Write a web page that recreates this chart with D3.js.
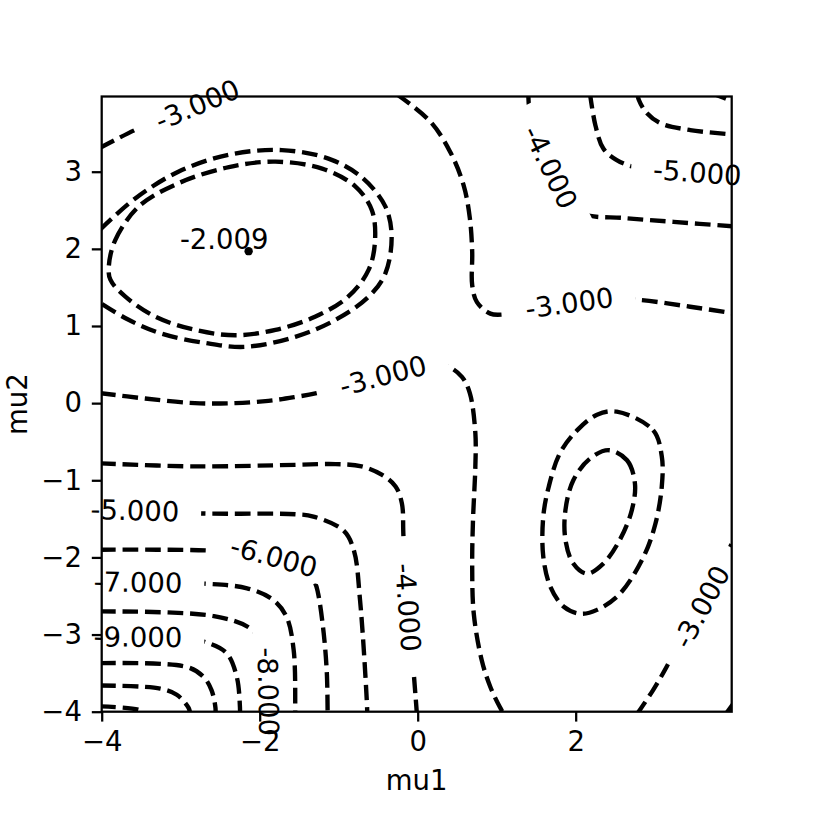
<!DOCTYPE html>
<html>
<head>
<meta charset="utf-8">
<script src="https://cdn.jsdelivr.net/npm/d3@7"></script>
<style>
  body { margin: 0; background: #fff; }
  text { font-family: "DejaVu Sans", sans-serif; }
</style>
</head>
<body>
<svg width="814" height="814"></svg>
<script>
// ticks
var xTicks = [-4, -2, 0, 2];
var yTicks = [-4, -3, -2, -1, 0, 1, 2, 3];

// contour lines, [mu1, mu2]
var lvl3TopLeft = [[-4.02, 3.31], [-3.58, 3.54], [-3.2, 3.70], [-2.79, 3.87], [-2.55, 3.98], [-2.45, 4.03]];
var lvl3Middle = [[-4.02, 0.13], [-3.45, 0.06], [-2.82, 0.0], [-2.31, 0.0], [-1.89, 0.03], [-1.55, 0.08],
  [-1.28, 0.13], [-0.44, 0.36], [0.1, 0.50], [0.37, 0.48], [0.56, 0.34], [0.66, 0.13], [0.73, -0.39],
  [0.73, -0.82], [0.70, -1.52], [0.69, -2.12], [0.71, -2.73], [0.81, -3.33], [0.92, -3.68], [1.04, -3.94], [1.09, -4.03]];
var lvl3Right = [[-0.26, 4.0], [0.16, 3.65], [0.41, 3.26], [0.58, 2.83], [0.66, 2.40], [0.69, 1.96], [0.69, 1.53],
  [0.75, 1.31], [0.92, 1.16], [1.09, 1.15], [1.5, 1.22], [1.92, 1.30], [2.35, 1.34], [2.77, 1.34], [3.45, 1.25], [4.02, 1.16]];
var lvl3BottomRight = [[2.77, -4.04], [2.98, -3.72], [3.15, -3.42], [3.24, -3.24], [3.42, -2.94], [3.59, -2.64], [3.78, -2.25], [4.02, -1.72]];
var lvl4Top = [[1.40, 4.02], [1.42, 3.78], [1.53, 3.50], [1.68, 3.06], [1.90, 2.72], [2.10, 2.46], [2.61, 2.40], [3.24, 2.35], [4.02, 2.29]];
var lvl4Bottom = [[-4.02, -0.78], [-2.82, -0.82], [-1.55, -0.80], [-1.04, -0.79], [-0.71, -0.82], [-0.45, -0.93],
  [-0.28, -1.08], [-0.20, -1.30], [-0.18, -1.73], [-0.12, -2.65], [-0.05, -3.50], [-0.01, -4.03]];
var lvl4Corner = [[3.90, -4.03], [4.02, -3.86]];
var lvl5Top = [[2.18, 4.02], [2.25, 3.60], [2.35, 3.30], [2.52, 3.15], [2.75, 3.06], [3.10, 3.02], [3.54, 2.99], [4.02, 2.95]];
var lvl5Left = [[-4.02, -1.39], [-3.58, -1.39], [-2.73, -1.43], [-1.55, -1.44], [-1.32, -1.47], [-0.94, -1.65],
  [-0.81, -1.90], [-0.73, -2.55], [-0.64, -3.96], [-0.64, -4.03]];
var lvl6Top = [[2.78, 4.02], [2.80, 3.93], [2.90, 3.76], [3.07, 3.63], [3.45, 3.54], [4.02, 3.48]];
var lvl6Left = [[-4.02, -1.90], [-3.3, -1.90], [-2.67, -1.91], [-2.2, -1.94], [-1.82, -1.99], [-1.45, -2.15],
  [-1.30, -2.33], [-1.26, -2.47], [-1.19, -2.98], [-1.15, -3.5], [-1.14, -4.03]];
var lvl7Top = [[3.72, 4.02], [3.88, 3.955], [4.02, 3.90]];
var lvl7Left = [[-4.02, -2.32], [-3.54, -2.32], [-2.71, -2.34], [-2.16, -2.40], [-1.83, -2.55], [-1.66, -2.77],
  [-1.57, -3.20], [-1.55, -3.95], [-1.55, -4.03]];
var lvl8 = [[-4.02, -2.70], [-2.58, -2.76], [-2.12, -2.92], [-1.95, -3.15], [-1.89, -3.45], [-1.89, -3.74], [-1.88, -4.03]];
var lvl9 = [[-4.02, -3.03], [-3.54, -3.03], [-3.0, -3.04], [-2.71, -3.09], [-2.42, -3.24], [-2.29, -3.55], [-2.25, -3.94], [-2.25, -4.03]];
var lvl10 = [[-4.02, -3.37], [-2.92, -3.42], [-2.71, -3.55], [-2.61, -3.72], [-2.56, -3.95], [-2.56, -4.03]];
var lvl11 = [[-4.02, -3.66], [-3.26, -3.70], [-3.05, -3.78], [-2.90, -3.95], [-2.88, -4.03]];
var lvl12 = [[-4.02, -3.93], [-3.51, -3.98], [-3.45, -4.03]];

// rings around the two maxima (no labels)
var maxOuter = [[-4.02, 2.25], [-3.58, 2.65], [-3.03, 3.00], [-2.39, 3.22], [-1.72, 3.28], [-1.13, 3.17], [-0.71, 2.93],
  [-0.41, 2.55], [-0.33, 2.16], [-0.41, 1.68], [-0.62, 1.38], [-1.04, 1.08], [-1.55, 0.86], [-2.18, 0.73],
  [-2.69, 0.78], [-3.24, 0.90], [-3.66, 1.08], [-4.02, 1.30]];
var maxInner = [[-3.91, 1.77], [-3.83, 2.11], [-3.53, 2.55], [-3.03, 2.85], [-2.39, 3.06], [-1.80, 3.13], [-1.21, 3.04],
  [-0.79, 2.81], [-0.58, 2.50], [-0.54, 2.11], [-0.62, 1.73], [-0.88, 1.38], [-1.30, 1.12], [-1.80, 0.95],
  [-2.31, 0.88], [-2.82, 0.95], [-3.32, 1.12], [-3.70, 1.38], [-3.89, 1.60]];
var localOuter = [[2.52, -0.11], [2.98, -0.35], [3.09, -0.69], [3.09, -1.08], [3.01, -1.56], [2.86, -1.99], [2.56, -2.47],
  [2.27, -2.68], [2.06, -2.73], [1.85, -2.64], [1.68, -2.38], [1.59, -1.99], [1.59, -1.47], [1.66, -1.08],
  [1.80, -0.65], [2.02, -0.35], [2.27, -0.15]];
var localInner = [[2.42, -0.61], [2.65, -0.74], [2.75, -1.04], [2.71, -1.39], [2.56, -1.77], [2.35, -2.08], [2.14, -2.21],
  [1.97, -2.08], [1.87, -1.77], [1.87, -1.39], [1.97, -1.0], [2.18, -0.72]];

var maxPoint = [-2.14, 1.97];
var maxValue = -2.009;
var maxTextAt = [-3.01, 2.0];

// level, line, closed?, index of the labelled point (-1 = none)
var contours = [
  { level: -3, pts: lvl3TopLeft, closed: false, label: 3 },
  { level: -3, pts: lvl3Middle, closed: false, label: 7 },
  { level: -3, pts: lvl3Right, closed: false, label: 11 },
  { level: -3, pts: lvl3BottomRight, closed: false, label: 5 },
  { level: -4, pts: lvl4Top, closed: false, label: 3 },
  { level: -4, pts: lvl4Bottom, closed: false, label: 9 },
  { level: -4, pts: lvl4Corner, closed: false, label: -1 },
  { level: -5, pts: lvl5Top, closed: false, label: 6 },
  { level: -5, pts: lvl5Left, closed: false, label: 1 },
  { level: -6, pts: lvl6Top, closed: false, label: -1 },
  { level: -6, pts: lvl6Left, closed: false, label: 4 },
  { level: -7, pts: lvl7Top, closed: false, label: -1 },
  { level: -7, pts: lvl7Left, closed: false, label: 1 },
  { level: -8, pts: lvl8, closed: false, label: 5 },
  { level: -9, pts: lvl9, closed: false, label: 1 },
  { level: -10, pts: lvl10, closed: false, label: -1 },
  { level: -11, pts: lvl11, closed: false, label: -1 },
  { level: -12, pts: lvl12, closed: false, label: -1 },
  { level: null, pts: maxOuter, closed: false, label: -1 },
  { level: null, pts: maxInner, closed: true, label: -1 },
  { level: null, pts: localOuter, closed: true, label: -1 },
  { level: null, pts: localInner, closed: true, label: -1 }
];

var svg = d3.select("svg");
svg.append("rect").attr("width", 814).attr("height", 814).attr("fill", "#fff");

var plotLeft = 101.7, plotRight = 731.7, plotTop = 96.5, plotBottom = 711.7;
var pt = 814 / 288; // px per point

var x = d3.scaleLinear().domain([-4, 3.975]).range([plotLeft, plotRight]);
var y = d3.scaleLinear().domain([-4, 3.975]).range([plotBottom, plotTop]);

var fontSize = 27.5;
var minus = function (d) { return String(d).replace("-", "\u2212"); };

var defs = svg.append("defs");
defs.append("clipPath").attr("id", "plotClip")
  .append("rect").attr("x", plotLeft).attr("y", plotTop)
  .attr("width", plotRight - plotLeft).attr("height", plotBottom - plotTop);

var mask = defs.append("mask").attr("id", "labelMask")
  .attr("maskUnits", "userSpaceOnUse")
  .attr("x", 0).attr("y", 0).attr("width", 814).attr("height", 814);
mask.append("rect").attr("width", 814).attr("height", 814).attr("fill", "#fff");

var openLine = d3.line()
  .x(function (d) { return x(d[0]); })
  .y(function (d) { return y(d[1]); })
  .curve(d3.curveCatmullRom.alpha(0.5));
var closedLine = d3.line()
  .x(function (d) { return x(d[0]); })
  .y(function (d) { return y(d[1]); })
  .curve(d3.curveCatmullRomClosed.alpha(0.5));

var lines = svg.append("g")
  .attr("clip-path", "url(#plotClip)")
  .append("g")
  .attr("mask", "url(#labelMask)");

lines.selectAll("path")
  .data(contours)
  .enter()
  .append("path")
  .attr("d", function (d) { return d.closed ? closedLine(d.pts) : openLine(d.pts); })
  .attr("fill", "none")
  .attr("stroke", "#000")
  .attr("stroke-width", 1.55 * pt)
  .attr("stroke-dasharray", (3.7 * 1.5 * pt) + "," + (1.6 * 1.5 * pt))
  .attr("stroke-linecap", "butt");

// contour labels, rotated along the line like clabel
var labelled = contours.filter(function (c) { return c.label >= 0; }).map(function (c) {
  var i = c.label, p = c.pts[i], a = c.pts[i - 1], b = c.pts[i + 1];
  var ang = Math.atan2(y(b[1]) - y(a[1]), x(b[0]) - x(a[0])) * 180 / Math.PI;
  if (ang > 90) ang -= 180;
  if (ang < -90) ang += 180;
  return { text: c.level.toFixed(3), px: x(p[0]), py: y(p[1]), angle: ang };
});

var labels = svg.append("g").selectAll("text")
  .data(labelled)
  .enter()
  .append("text")
  .attr("transform", function (d) { return "translate(" + d.px + "," + d.py + ") rotate(" + d.angle + ")"; })
  .attr("text-anchor", "middle")
  .attr("dy", "0.36em")
  .style("font-size", fontSize + "px")
  .text(function (d) { return d.text; });

// break the line under each label, a bit wider than the text
labels.each(function (d) {
  var w = this.getComputedTextLength() + 44;
  mask.append("rect")
    .attr("x", -w / 2).attr("y", -15)
    .attr("width", w).attr("height", 30)
    .attr("fill", "#000")
    .attr("transform", "translate(" + d.px + "," + d.py + ") rotate(" + d.angle + ")");
});

// maximum
svg.append("circle")
  .attr("cx", x(maxPoint[0])).attr("cy", y(maxPoint[1]))
  .attr("r", 4.2).attr("fill", "#000");
svg.append("text")
  .attr("x", x(maxTextAt[0])).attr("y", y(maxTextAt[1]))
  .style("font-size", fontSize + "px")
  .text(maxValue.toFixed(3));

// axes
var xAxis = svg.append("g")
  .attr("transform", "translate(0," + plotBottom + ")")
  .call(d3.axisBottom(x).tickValues(xTicks).tickSize(3.5 * pt).tickPadding(3.5 * pt).tickFormat(minus));
var yAxis = svg.append("g")
  .attr("transform", "translate(" + plotLeft + ",0)")
  .call(d3.axisLeft(y).tickValues(yTicks).tickSize(3.5 * pt).tickPadding(3.5 * pt).tickFormat(minus));

[xAxis, yAxis].forEach(function (g) {
  g.select(".domain").remove();
  g.selectAll("line").attr("stroke", "#000").attr("stroke-width", 0.8 * pt);
  g.selectAll("text")
    .attr("fill", "#000")
    .style("font-family", '"DejaVu Sans", sans-serif')
    .style("font-size", fontSize + "px");
});

svg.append("rect")
  .attr("x", plotLeft).attr("y", plotTop)
  .attr("width", plotRight - plotLeft).attr("height", plotBottom - plotTop)
  .attr("fill", "none")
  .attr("stroke", "#000")
  .attr("stroke-width", 0.8 * pt);

svg.append("text")
  .attr("x", (plotLeft + plotRight) / 2).attr("y", 790)
  .attr("text-anchor", "middle")
  .style("font-size", fontSize + "px")
  .text("mu1");

svg.append("text")
  .attr("transform", "translate(27," + (plotTop + plotBottom) / 2 + ") rotate(-90)")
  .attr("text-anchor", "middle")
  .style("font-size", fontSize + "px")
  .text("mu2");
</script>
</body>
</html>
